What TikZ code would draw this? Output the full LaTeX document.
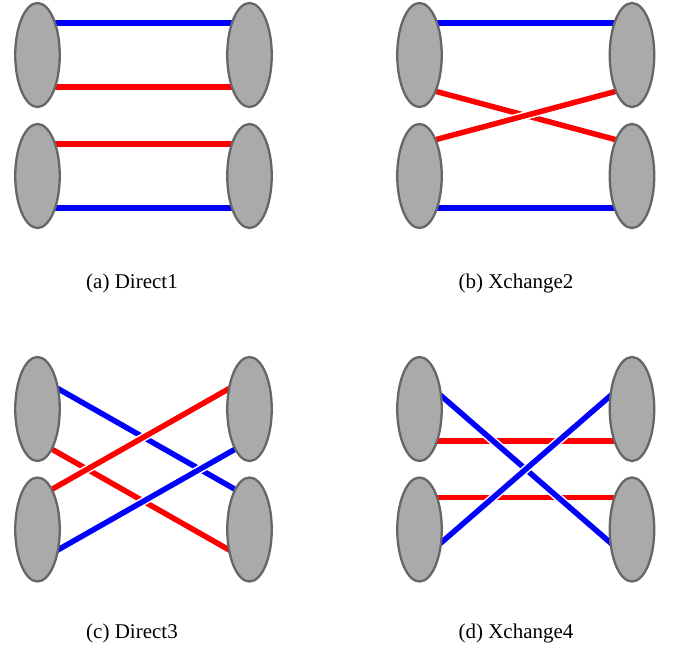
\documentclass[tikz,border=0pt]{standalone}
\usepackage{fontspec}
\setmainfont{Liberation Serif}
\usetikzlibrary{shapes.geometric,calc}
\pgfdeclarelayer{bg}
\pgfsetlayers{bg,main}
\definecolor{ellfill}{HTML}{AAAAAA}
\definecolor{elldraw}{HTML}{666666}
\tikzset{
  site/.style={ellipse, draw=elldraw, fill=ellfill, line width=2.3pt,
    minimum width=44.5pt, minimum height=104pt, inner sep=0pt},
  bl/.style={draw=blue, line width=5.5pt},
  rd/.style={draw=red, line width=5.5pt},
  over/.style={preaction={draw=white, line width=8.5pt}},
  capt/.style={font=\fontsize{21}{25}\selectfont, inner sep=0pt}
}
\begin{document}
\begin{tikzpicture}[x=1pt, y=-1pt]
\path[use as bounding box] (0,0) rectangle (678,651);
% panel (a)
\node[site] (a-L1) at (37.5,55) {};
\node[site] (a-L2) at (37.5,176) {};
\node[site] (a-R1) at (249.5,55) {};
\node[site] (a-R2) at (249.5,176) {};
% panel (b)
\node[site] (b-L1) at (419.5,55) {};
\node[site] (b-L2) at (419.5,176) {};
\node[site] (b-R1) at (632,55) {};
\node[site] (b-R2) at (632,176) {};
% panel (c)
\node[site] (c-L1) at (37.5,409) {};
\node[site] (c-L2) at (37.5,529.5) {};
\node[site] (c-R1) at (249.5,409) {};
\node[site] (c-R2) at (249.5,529.5) {};
% panel (d)
\node[site] (d-L1) at (419.5,409) {};
\node[site] (d-L2) at (419.5,529.5) {};
\node[site] (d-R1) at (632,409) {};
\node[site] (d-R2) at (632,529.5) {};
\begin{pgfonlayer}{bg}
% (a)
\draw[bl] ($(a-L1)+(0,-32)$) -- ($(a-R1)+(0,-32)$);
\draw[rd] ($(a-L1)+(0,32)$) -- ($(a-R1)+(0,32)$);
\draw[rd] ($(a-L2)+(0,-32)$) -- ($(a-R2)+(0,-32)$);
\draw[bl] ($(a-L2)+(0,32)$) -- ($(a-R2)+(0,32)$);
% (b)
\draw[bl] ($(b-L1)+(0,-32)$) -- ($(b-R1)+(0,-32)$);
\draw[rd] ($(b-L1)+(0,32)$) -- ($(b-R2)+(0,-32)$);
\draw[rd, over] ($(b-L2)+(0,-32)$) -- ($(b-R1)+(0,32)$);
\draw[bl] ($(b-L2)+(0,32)$) -- ($(b-R2)+(0,32)$);
% (c)
\draw[bl] ($(c-L1)+(0,-32)$) -- ($(c-R2)+(0,-32)$);
\draw[rd] ($(c-L1)+(0,32)$) -- ($(c-R2)+(0,32)$);
\draw[rd, over] ($(c-L2)+(0,-32)$) -- ($(c-R1)+(0,-32)$);
\draw[bl, over] ($(c-L2)+(0,32)$) -- ($(c-R1)+(0,32)$);
% (d)
\draw[rd] ($(d-L1)+(0,32)$) -- ($(d-R1)+(0,32)$);
\draw[rd] ($(d-L2)+(0,-32)$) -- ($(d-R2)+(0,-32)$);
\draw[bl, over] ($(d-L1)+(0,-32)$) -- ($(d-R2)+(0,32)$);
\draw[bl, over] ($(d-L2)+(0,32)$) -- ($(d-R1)+(0,-32)$);
\end{pgfonlayer}
% captions
\node[capt] (cap-a) at (132,283) {(a) Direct1};
\node[capt] (cap-b) at (516,283) {(b) Xchange2};
\node[capt] (cap-c) at (132,633) {(c) Direct3};
\node[capt] (cap-d) at (516,633) {(d) Xchange4};
\end{tikzpicture}
\end{document}
